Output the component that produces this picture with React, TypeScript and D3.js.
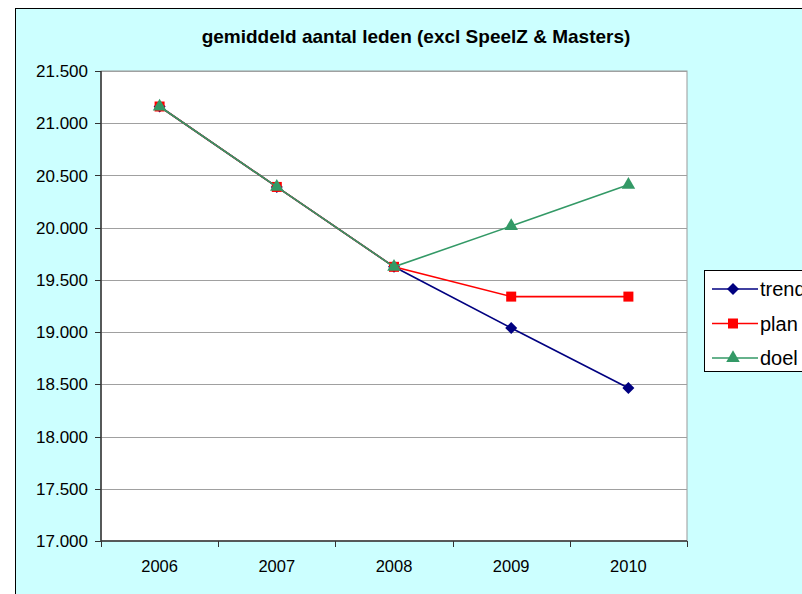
import React from "react";
import * as d3 from "d3";

const years = ["2006", "2007", "2008", "2009", "2010"];
const trend = [21160, 20390, 19625, 19040, 18465];
const plan = [21160, 20390, 19625, 19340, 19340];
const doel = [21160, 20390, 19625, 20015, 20410];
const yTicks = [17000, 17500, 18000, 18500, 19000, 19500, 20000, 20500, 21000, 21500];
const seriesNames = ["trend", "plan", "doel"];
const seriesColors = ["#000080", "#FF0000", "#339966"];
const seriesShapes = ["diamond", "square", "triangle"];
const titleText = "gemiddeld aantal leden (excl SpeelZ & Masters)";

const W = 802, H = 594;
const plot = { left: 101, right: 687, top: 71, bottom: 541 };
const FONT = "'Liberation Sans', Arial, sans-serif";

const fmtTick = (v: number) => (v / 1000).toFixed(3);

function Marker({ shape, x, y, color }: { shape: string; x: number; y: number; color: string }) {
  if (shape === "diamond") {
    const r = 6;
    return <path d={`M${x},${y - r}L${x + r},${y}L${x},${y + r}L${x - r},${y}Z`} fill={color} />;
  }
  if (shape === "square") {
    return <rect x={x - 5} y={y - 5} width={10} height={10} fill={color} />;
  }
  const p = d3.symbol().type(d3.symbolTriangle).size(80)();
  return <path d={p as string} transform={`translate(${x},${y})`} fill={color} />;
}

export default function App() {
  const x = d3.scaleBand().domain(years).range([plot.left, plot.right]);
  const y = d3.scaleLinear().domain([17000, 21500]).range([plot.bottom, plot.top]);
  const data = [trend, plan, doel];
  const line = d3
    .line<number>()
    .x((_, i) => (x(years[i]) as number) + x.bandwidth() / 2)
    .y((d) => y(d));
  const xTickPositions = d3.range(years.length + 1).map((i) => plot.left + i * x.step());

  return (
    <div style={{ position: "fixed", left: 0, top: 0 }}>
      <svg width={W} height={H} style={{ display: "block" }}>
        <rect x={0} y={0} width={W} height={H} fill="#FFFFFF" />
        <rect x={15.5} y={8.5} width={W + 20} height={H + 20} fill="#CCFFFF" stroke="#000" strokeWidth={1} />
        <text x={416} y={43} textAnchor="middle" fontFamily={FONT} fontWeight="bold" fontSize={19} fill="#000">
          {titleText}
        </text>
        <rect x={plot.left} y={plot.top} width={plot.right - plot.left} height={plot.bottom - plot.top} fill="#FFFFFF" stroke="#999" strokeWidth={1} />
        {yTicks.map((t) => (
          <g key={t}>
            {t !== 17000 && (
              <line x1={plot.left} x2={plot.right} y1={Math.round(y(t)) + 0.5} y2={Math.round(y(t)) + 0.5} stroke="#A0A0A0" strokeWidth={1} />
            )}
            <line x1={plot.left - 6} x2={plot.left} y1={Math.round(y(t)) + 0.5} y2={Math.round(y(t)) + 0.5} stroke="#333" strokeWidth={1} />
            <text x={88} y={y(t)} dy="0.36em" textAnchor="end" fontFamily={FONT} fontSize={17} fill="#000">
              {fmtTick(t)}
            </text>
          </g>
        ))}
        <line x1={plot.left} x2={plot.left} y1={plot.top} y2={plot.bottom} stroke="#333" strokeWidth={1.5} />
        <line x1={plot.left} x2={plot.right} y1={plot.bottom} y2={plot.bottom} stroke="#333" strokeWidth={1.5} />
        {xTickPositions.map((px, i) => (
          <line key={i} x1={Math.round(px) + 0.5} x2={Math.round(px) + 0.5} y1={plot.bottom} y2={plot.bottom + 6} stroke="#333" strokeWidth={1} />
        ))}
        {years.map((yr) => (
          <text key={yr} x={(x(yr) as number) + x.bandwidth() / 2} y={572} textAnchor="middle" fontFamily={FONT} fontSize={16.5} fill="#000">
            {yr}
          </text>
        ))}
        {data.map((s, si) => (
          <g key={si}>
            <path d={line(s) as string} fill="none" stroke={seriesColors[si]} strokeWidth={1.6} />
            {s.map((v, i) => (
              <Marker key={i} shape={seriesShapes[si]} x={(x(years[i]) as number) + x.bandwidth() / 2} y={y(v)} color={seriesColors[si]} />
            ))}
          </g>
        ))}
        <rect x={704.5} y={270.5} width={120} height={101} fill="#FFFFFF" stroke="#000" strokeWidth={1} />
        {seriesNames.map((n, i) => {
          const ly = 289 + i * 34.5;
          return (
            <g key={n}>
              <line x1={712} x2={758} y1={ly} y2={ly} stroke={seriesColors[i]} strokeWidth={1.6} />
              <Marker shape={seriesShapes[i]} x={733} y={ly} color={seriesColors[i]} />
              <text x={760} y={ly} dy="0.36em" fontFamily={FONT} fontSize={20} fill="#000">
                {n}
              </text>
            </g>
          );
        })}
      </svg>
    </div>
  );
}
